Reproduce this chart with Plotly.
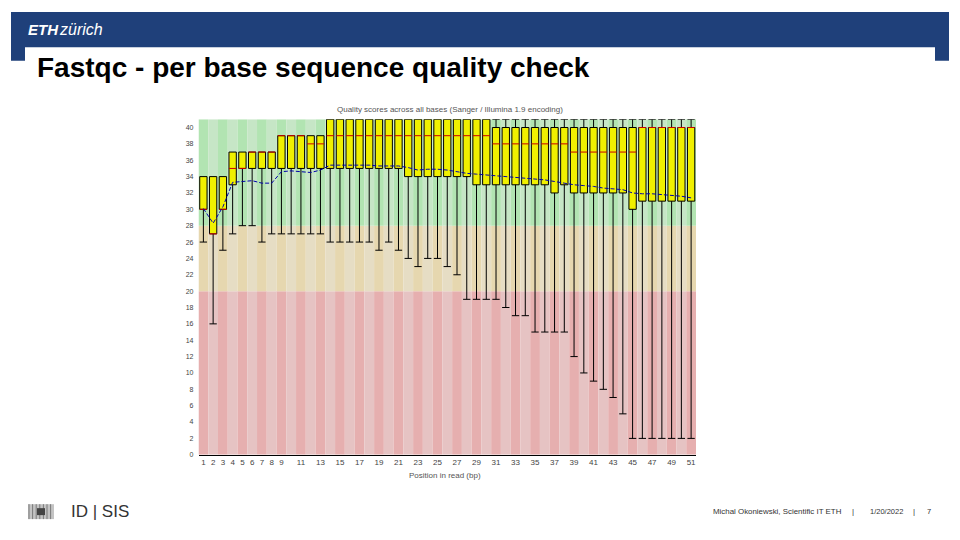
import plotly.graph_objects as go

# ---------------- data ----------------
positions = list(range(1, 52))
x_tick_labels = list(range(1, 10)) + list(range(11, 52, 2))
y_tick_labels = list(range(0, 41, 2))

lower_whisker = [26, 16, 25, 27, 28, 28, 26, 27, 27, 27, 27, 27, 27,
                 26, 26, 26, 26, 26, 25, 26, 25, 24, 23, 24, 24, 23,
                 22, 19, 19, 19, 19, 18, 17, 17, 15, 15, 15, 15,
                 12, 10, 9, 8, 7, 5, 2, 2, 2, 2, 2, 2, 2]
lower_quartile = [30, 27, 30, 33] + [35] * 4 + [35] * 5 + [35] * 8 + [34] * 7 + [33] * 8 + [32, 33] + [32] * 6 + [30] + [31] * 6
median = [30, 27, 30, 35, 35] + [37] * 3 + [39] * 3 + [38] * 2 + [39] * 17 + [38] * 8 + [37] * 7 + [40] * 6
upper_quartile = [34] * 3 + [37] * 5 + [39] * 5 + [41] * 17 + [40] * 21
upper_whisker = [34] * 3 + [37] * 5 + [39] * 5 + [41] * 38
mean_quality = [30.1, 28.3, 30.3, 33.3, 33.4, 33.5, 33.2, 33.2, 34.6, 34.7, 34.6, 34.5, 34.8,
                35.4, 35.4, 35.4, 35.4, 35.4, 35.3, 35.3, 35.3, 35.1, 34.8, 34.9, 34.9, 34.8,
                34.6, 34.4, 34.3, 34.2, 34.1, 34.0, 33.9, 33.8, 33.7, 33.6, 33.4, 33.2,
                33.0, 32.9, 32.8, 32.6, 32.5, 32.4, 32.0, 31.9, 31.9, 31.8, 31.7, 31.6, 31.4]

zones = [(0, 20, "rgb(230,175,175)", "rgb(230,195,195)"),
         (20, 28, "rgb(230,215,175)", "rgb(230,221,196)"),
         (28, 41, "rgb(178,228,178)", "rgb(198,230,198)")]

# ---------------- geometry helpers ----------------
W, H = 960, 540
def px(x):
    return x / W
def py(y):
    return 1 - y / H

BOX_W = 0.75
HALF = BOX_W / 2

fig = go.Figure()

# boxes (interquartile range)
fig.add_trace(go.Bar(
    x=positions, base=lower_quartile,
    y=[q3 - q1 for q1, q3 in zip(lower_quartile, upper_quartile)],
    width=BOX_W, marker=dict(color="rgb(240,240,0)", line=dict(color="black", width=1)),
    hoverinfo="skip", showlegend=False))

# whiskers
wx, wy = [], []
for p, lw, q1, q3, uw in zip(positions, lower_whisker, lower_quartile, upper_quartile, upper_whisker):
    wx += [p, p, None, p - HALF, p + HALF, None]
    wy += [lw, q1, None, lw, lw, None]
    if uw > q3:
        wx += [p, p, None, p - HALF, p + HALF, None]
        wy += [q3, uw, None, uw, uw, None]
fig.add_trace(go.Scatter(x=wx, y=wy, mode="lines", line=dict(color="black", width=1),
                         hoverinfo="skip", showlegend=False))

# medians
mx, my = [], []
for p, m in zip(positions, median):
    mx += [p - HALF, p + HALF, None]
    my += [m, m, None]
fig.add_trace(go.Scatter(x=mx, y=my, mode="lines", line=dict(color="rgb(200,0,0)", width=1),
                         hoverinfo="skip", showlegend=False))

# mean
fig.add_trace(go.Scatter(x=positions, y=mean_quality, mode="lines",
                         line=dict(color="rgb(0,0,170)", width=1, dash="4px,2px"),
                         hoverinfo="skip", showlegend=False))

shapes = []
# header banner
shapes.append(dict(type="rect", xref="paper", yref="paper", x0=px(11), x1=px(949), y0=py(61), y1=py(12),
                   fillcolor="#1F407A", line=dict(width=0), layer="below"))
shapes.append(dict(type="rect", xref="paper", yref="paper", x0=px(25), x1=px(935), y0=py(100), y1=py(47.5),
                   fillcolor="white", line=dict(width=0), layer="below"))
# background stripes
for p in positions:
    for lo, hi, dark, light in zones:
        shapes.append(dict(type="rect", xref="x", yref="y", x0=p - 0.5, x1=p + 0.5, y0=lo, y1=hi,
                           fillcolor=dark if p % 2 == 1 else light, line=dict(width=0), layer="below"))
# footer logo (approximation)
shapes.append(dict(type="rect", xref="paper", yref="paper", x0=px(28), x1=px(54), y0=py(522), y1=py(507),
                   fillcolor="#c4c4c4", line=dict(width=0)))
for i in range(7):
    xx = 29 + i * 3.6
    shapes.append(dict(type="line", xref="paper", yref="paper", x0=px(xx), x1=px(xx), y0=py(522), y1=py(507),
                       line=dict(color="#7a7a7a", width=1)))
shapes.append(dict(type="rect", xref="paper", yref="paper", x0=px(37), x1=px(45), y0=py(518), y1=py(511),
                   fillcolor="#444", line=dict(width=0)))

ann = []
def text(x, y, s, size, color="black", xanchor="left", family="Liberation Sans, Arial, sans-serif"):
    ann.append(dict(x=px(x), y=py(y), xref="paper", yref="paper", text=s, showarrow=False,
                    xanchor=xanchor, yanchor="middle", font=dict(size=size, color=color, family=family)))

text(26, 30, "<b><i>ETH</i></b>", 15, "white")
text(57, 30, "<i>zürich</i>", 16, "white")
text(35, 68, "<b>Fastqc - per base sequence quality check</b>", 28)
text(450, 110, "Quality scores across all bases (Sanger / Illumina 1.9 encoding)", 8, "#555", "center")
text(445, 478, "Position in read (bp)", 8, "#555", "center")
text(69, 514, "ID | SIS", 17, "#333")
text(711, 514, "Michal Okoniewski, Scientific IT ETH", 7.9, "#333")
text(853, 514, "|", 8, "#333", "center")
text(886, 514, "1/20/2022", 7.5, "#333", "center")
text(914, 514, "|", 8, "#333", "center")
text(929, 514, "7", 7.5, "#333", "center")

fig.update_layout(
    width=W, height=H, margin=dict(l=0, r=0, t=0, b=0),
    paper_bgcolor="white", plot_bgcolor="rgba(0,0,0,0)",
    barmode="overlay", showlegend=False,
    shapes=shapes, annotations=ann,
    xaxis=dict(domain=[px(198.5), px(696)], range=[0.5, 51.5], tickmode="array",
               tickvals=x_tick_labels, ticktext=[str(v) for v in x_tick_labels],
               showgrid=False, zeroline=False, showline=True, linecolor="black", linewidth=1,
               ticks="", tickfont=dict(size=8, color="#444", family="Liberation Sans, Arial, sans-serif")),
    yaxis=dict(domain=[py(457.3), py(120)], range=[0, 41], tickmode="array",
               tickvals=y_tick_labels, ticktext=[str(v) for v in y_tick_labels],
               showgrid=False, zeroline=False, showline=False, ticks="", ticklabelstandoff=4,
               tickfont=dict(size=7, color="#444", family="Liberation Sans, Arial, sans-serif")),
)

fig.write_html("out.html", config={"displayModeBar": False},
               post_script="document.body.style.margin='0px';")
